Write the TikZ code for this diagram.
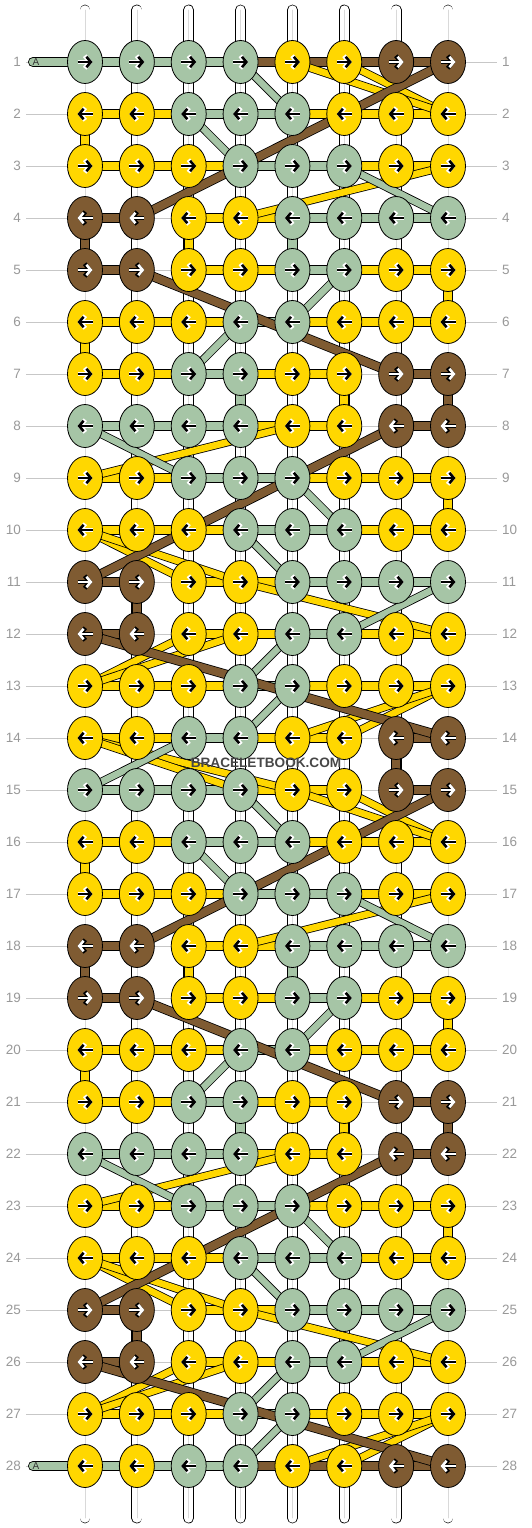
\documentclass[tikz,border=0pt]{standalone}
\usepackage{fontspec}
\setmainfont{Liberation Sans}
\usetikzlibrary{shapes.geometric,arrows.meta}

\definecolor{kG}{HTML}{A6C5A6}
\definecolor{kY}{HTML}{FFD700}
\definecolor{kB}{HTML}{7F5B32}
\definecolor{rowgray}{HTML}{999999}

\pgfdeclarelayer{bg}
\pgfsetlayers{bg,main}

\begin{document}
\begin{tikzpicture}[x=1pt, y=-1pt]
    \tikzstyle{rownum} = [text=rowgray, font=\fontsize{13.5}{14}\selectfont, inner sep=0pt]
    \tikzstyle{guide} = [draw=black!22, line width=0.8pt]
    \tikzstyle{strip} = [draw=white, line width=9.4pt, line cap=round, preaction={draw=black, line width=10.8pt, line cap=round}, postaction={draw=black!15, line width=0.6pt}]
    \tikzstyle{tablabel} = [font=\fontsize{10}{10}\selectfont, text=black!80, inner sep=0pt]
    \tikzset{
        knot/.style={ellipse, draw=black, line width=0.8pt, fill=k#1, minimum width=35pt, minimum height=43pt, inner sep=0pt},
        arrow/.style 2 args={draw=#1, line width=2.6pt, -{Straight Barb[length=4.4pt,width=10.5pt]}, preaction={draw=#2, line width=4.4pt, -{Straight Barb[length=5pt,width=12.5pt]}}},
        thread/.style={draw=k#1, line width=8.4pt, line cap=round, preaction={draw=black, line width=10pt, line cap=round}},
        diag/.style={draw=k#1, line width=6.6pt, line cap=round, preaction={draw=black, line width=8.2pt, line cap=round}},
        wide/.style={draw=k#1, line width=8pt, line cap=round, preaction={draw=black, line width=9.6pt, line cap=round}}
    }
    \useasboundingbox (0,0) rectangle (532,1528);

    % knots, seven row patterns repeated four times
    \foreach \p/\cl in {1/{G,G,G,G,Y,Y,B,B}, 2/{Y,Y,G,G,G,Y,Y,Y}, 3/{Y,Y,Y,G,G,G,Y,Y}, 4/{B,B,Y,Y,G,G,G,G}, 5/{B,B,Y,Y,G,G,Y,Y}, 6/{Y,Y,Y,G,G,Y,Y,Y}, 7/{Y,Y,G,G,Y,Y,B,B}} {
        \foreach \b in {0,7,14,21} {
            \pgfmathtruncatemacro\r{\p+\b}
            \ifodd\r \def\sg{1}\else \def\sg{-1}\fi
            \foreach \k [count=\c] in \cl {
                \expandafter\xdef\csname kc-\r-\c\endcsname{\k}
                \node[knot=\k] (k\r-\c) at ({85+(\c-1)*51.857}, {62+(\r-1)*52}) {};
                \if\k B\def\ac{white}\def\ah{black}\else\def\ac{black}\def\ah{white}\fi
                \draw[arrow={\ac}{\ah}] ([xshift=-7.5pt*\sg]k\r-\c.center) -- ([xshift=7.5pt*\sg]k\r-\c.center);
            }
        }
    }

    % row numbers
    \foreach \r in {1,...,28} {
        \node[rownum, anchor=east] (ln\r) at (21, {62+(\r-1)*52}) {\r};
        \node[rownum, anchor=west] (rn\r) at (502, {62+(\r-1)*52}) {\r};
    }

    % string ends
    \foreach \c in {1,...,8} {
        \coordinate (top\c) at ({85+(\c-1)*51.857}, 10);
        \coordinate (bot\c) at ({85+(\c-1)*51.857}, 1518);
    }
    \coordinate (tab1) at (33,62);
    \coordinate (tab28) at (33,1466);
    \node[tablabel] (A1) at (36,62) {A};
    \node[tablabel] (A28) at (36,1466) {A};

    \node[font=\bfseries\fontsize{13.6}{14}\selectfont, text=black!72, inner sep=1pt] (mark) at (266,763) {BRACELETBOOK.COM};

    \begin{pgfonlayer}{bg}
        \fill[white] (0,0) rectangle (532,1528);
        \foreach \r in {1,...,28} {
            \draw[guide] ([xshift=5pt]ln\r.east) -- ([xshift=-5pt]rn\r.west);
        }
        \foreach \c in {1,...,8} {
            \draw[strip] (top\c) -- (bot\c);
        }

        % first and last row
        \foreach \r in {1,28} {
            \draw[thread=G] (tab\r) -- (k\r-4.center);
            \draw[thread=B] (k\r-4.center) -- (k\r-8.center);
        }

        % bars inside the rows
        \foreach \r in {2,...,27} {
            \foreach \c in {1,...,7} {
                \pgfmathtruncatemacro\d{\c+1}
                \edef\ka{\csname kc-\r-\c\endcsname}
                \edef\kb{\csname kc-\r-\d\endcsname}
                \def\bc{}
                \if\ka\kb \edef\bc{\ka}\else
                    \if\ka B\else\if\kb B\else\def\bc{Y}\fi\fi
                \fi
                \ifx\bc\empty\else\draw[thread=\bc] (k\r-\c.center) -- (k\r-\d.center);\fi
            }
        }

        % straight down
        \foreach \off in {0,14} {
            \foreach \ra/\ca/\kk in {2/1/Y, 4/1/B, 4/3/Y, 4/5/G, 5/8/Y, 6/1/Y, 7/4/G, 7/6/Y, 7/8/B, 9/8/Y, 11/2/B, 14/7/B} {
                \pgfmathtruncatemacro\sa{\ra+\off}
                \pgfmathtruncatemacro\sb{\ra+\off+1}
                \ifnum\sb<29 \draw[thread=\kk] (k\sa-\ca.center) -- (k\sb-\ca.center);\fi
            }
        }

        % crossing over
        \foreach \kk/\lst in {Y/{1/6/2/8, 1/5/2/8, 3/8/4/4, 8/5/9/1, 10/1/11/3, 10/1/11/4, 11/4/12/8, 12/3/13/1, 12/4/13/1, 13/8/14/6, 13/8/14/5, 14/1/15/5, 14/1/15/4},
                              G/{1/4/2/5, 2/3/3/4, 3/6/4/8, 5/6/6/5, 6/4/7/3, 8/1/9/3, 9/5/10/6, 10/4/11/5, 11/8/12/6, 12/5/13/4, 13/5/14/4, 14/3/15/1}} {
            \foreach \off in {0,14} {
                \foreach \ra/\ca/\rb/\cb in \lst {
                    \pgfmathtruncatemacro\sa{\ra+\off}
                    \pgfmathtruncatemacro\sb{\rb+\off}
                    \ifnum\sb<29 \draw[diag=\kk] (k\sa-\ca.center) -- (k\sb-\cb.center);\fi
                }
            }
        }
        \foreach \off in {0,14} {
            \foreach \ra/\ca/\rb/\cb in {1/8/4/2, 5/2/7/7, 8/7/11/1, 12/1/14/8} {
                \pgfmathtruncatemacro\sa{\ra+\off}
                \pgfmathtruncatemacro\sb{\rb+\off}
                \draw[wide=B] (k\sa-\ca.center) -- (k\sb-\cb.center);
            }
        }
    \end{pgfonlayer}
\end{tikzpicture}
\end{document}
